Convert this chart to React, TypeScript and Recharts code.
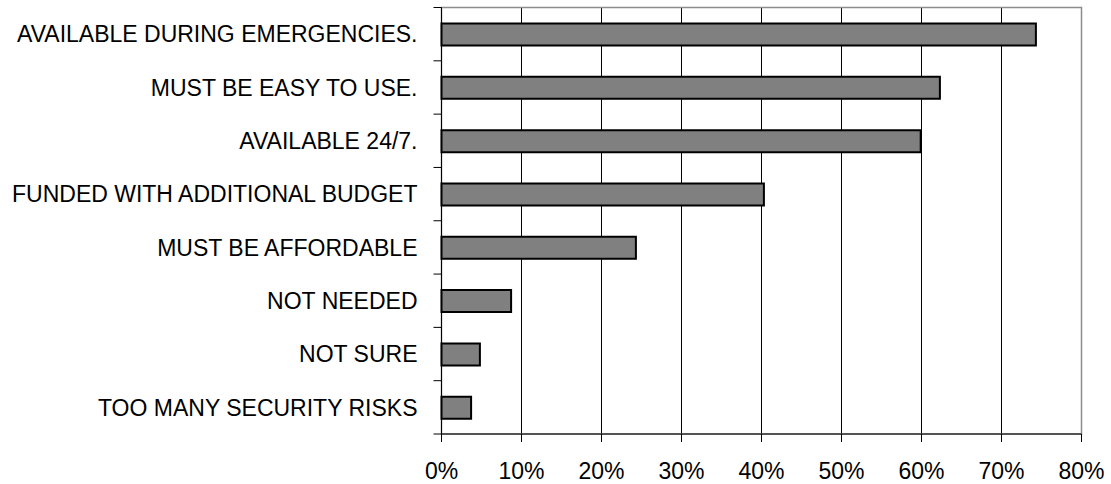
import { BarChart, Bar, XAxis, YAxis, CartesianGrid, ReferenceArea } from 'recharts';

const categories = [
  'AVAILABLE DURING EMERGENCIES.',
  'MUST BE EASY TO USE.',
  'AVAILABLE 24/7.',
  'FUNDED WITH ADDITIONAL BUDGET',
  'MUST BE AFFORDABLE',
  'NOT NEEDED',
  'NOT SURE',
  'TOO MANY SECURITY RISKS',
];

const shares = [74.3, 62.3, 59.9, 40.3, 24.3, 8.7, 4.8, 3.7];

const xTicks = [0, 10, 20, 30, 40, 50, 60, 70, 80];

const data = categories.map((name, i) => ({ name, value: shares[i] }));

const FONT = '"Liberation Sans", Arial, sans-serif';
const TICK_SIZE = 8;
const TICK_MARGIN = 16;

// Excel puts the category tick marks between the bars, not at their centres
function CategoryTick(props: any) {
  const { x, y, payload, index } = props;
  const half = payload?.offset ?? 0;
  const axisX = x + TICK_SIZE + TICK_MARGIN;
  const isLast = index === categories.length - 1;
  return (
    <g>
      <line x1={axisX - TICK_SIZE} x2={axisX} y1={y - half} y2={y - half} stroke="#000000" />
      {isLast && (
        <line x1={axisX - TICK_SIZE} x2={axisX} y1={y + half} y2={y + half} stroke="#000000" />
      )}
      <text
        x={x}
        y={y}
        dy="0.355em"
        textAnchor="end"
        fontSize={23}
        fontFamily={FONT}
        fill="#000000"
      >
        {payload.value}
      </text>
    </g>
  );
}

export default function App() {
  return (
    <div style={{ width: 1111, height: 484, background: '#ffffff' }}>
      <style>{`body { margin: 0; }`}</style>
      <BarChart
        width={1111}
        height={484}
        data={data}
        layout="vertical"
        margin={{ top: 7.5, right: 29.5, left: 0.5, bottom: 0 }}
        style={{ fontFamily: FONT }}
      >
        <CartesianGrid horizontal={false} stroke="#000000" strokeOpacity={1} />
        <ReferenceArea
          x1={0}
          x2={80}
          fill="none"
          stroke="#8c8c8c"
          strokeWidth={1.5}
          ifOverflow="visible"
        />
        <XAxis
          type="number"
          domain={[0, 80]}
          ticks={xTicks}
          tickFormatter={(v) => `${v}%`}
          height={50}
          tickSize={8}
          tickMargin={21}
          stroke="#000000"
          tick={{ fontSize: 23, fill: '#000000', fontFamily: FONT }}
          interval={0}
        />
        <YAxis
          type="category"
          dataKey="name"
          width={441}
          tickSize={TICK_SIZE}
          tickMargin={TICK_MARGIN}
          tickLine={false}
          stroke="#000000"
          tick={<CategoryTick />}
          interval={0}
        />
        <Bar
          dataKey="value"
          fill="#808080"
          stroke="#000000"
          strokeWidth={2}
          barSize={22}
          isAnimationActive={false}
        />
      </BarChart>
    </div>
  );
}
